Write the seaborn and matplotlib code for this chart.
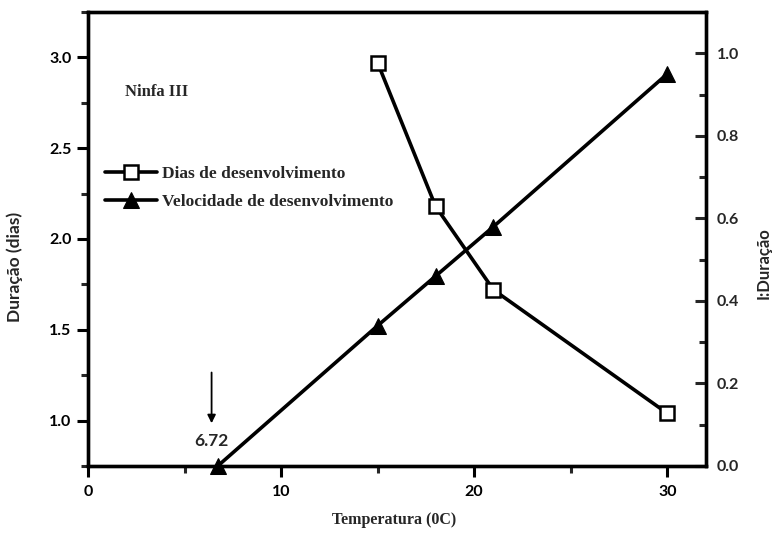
import matplotlib
matplotlib.use("Agg")
import matplotlib.pyplot as plt
import seaborn as sns
import pandas as pd
from matplotlib.ticker import MultipleLocator

sns.set_theme(style="white")
plt.rcParams['font.family'] = ['Liberation Serif', 'DejaVu Serif']
plt.rcParams['font.weight'] = 'bold'

temp_dias = [15, 18, 21, 30]
dias = [2.97, 2.18, 1.72, 1.04]
temp_vel = [6.72, 15, 18, 21, 30]
velocidade = [0.0, 0.34, 0.46, 0.58, 0.95]
xticks = [0, 10, 20, 30]
yticks_left = [1.0, 1.5, 2.0, 2.5, 3.0]
yticks_right = [0.0, 0.2, 0.4, 0.6, 0.8, 1.0]

df_d = pd.DataFrame({"Temperatura": temp_dias, "Dias": dias})
df_v = pd.DataFrame({"Temperatura": temp_vel, "Vel": velocidade})

fig = plt.figure(figsize=(7.74, 5.35), dpi=100)
ax = fig.add_axes([0.1137, 0.129, 0.7983, 0.8486])
ax2 = ax.twinx()

sns.lineplot(data=df_d, x="Temperatura", y="Dias", ax=ax, color="black",
             linewidth=2.6, marker="s", markersize=10, markerfacecolor="white",
             markeredgecolor="black", markeredgewidth=1.8, label="Dias de desenvolvimento",
             legend=False, zorder=3)
sns.lineplot(data=df_v, x="Temperatura", y="Vel", ax=ax2, color="black",
             linewidth=2.6, marker="^", markersize=12, markerfacecolor="black",
             markeredgecolor="black", label="Velocidade de desenvolvimento",
             legend=False, zorder=3)
for ln in ax2.lines + ax.lines:
    ln.set_clip_on(False)

ax.set_xlim(0, 32)
ax.set_ylim(0.75, 3.25)
ax2.set_ylim(0, 1.1)

ax.xaxis.set_minor_locator(MultipleLocator(5))
ax.yaxis.set_minor_locator(MultipleLocator(0.25))
ax2.yaxis.set_minor_locator(MultipleLocator(0.1))

tick_font = dict(family=['Lato', 'DejaVu Sans'], weight='bold', size=11.5)
ax.set_xticks(xticks)
ax.set_xticklabels([str(v) for v in xticks], fontdict=tick_font)
ax.set_yticks(yticks_left)
ax.set_yticklabels([f"{v:.1f}" for v in yticks_left], fontdict=tick_font)
ax2.set_yticks(yticks_right)
ax2.set_yticklabels([f"{v:.1f}" for v in yticks_right], fontdict=tick_font)

ax.tick_params(axis='both', which='major', direction='out', length=8, width=2.2,
               colors='black', pad=4)
ax.tick_params(axis='x', which='major', pad=6)
ax.tick_params(axis='both', which='minor', direction='out', length=5, width=2.2)
ax.tick_params(axis='x', which='both', bottom=True)
ax.tick_params(axis='y', which='both', left=True)
ax2.tick_params(axis='y', which='major', direction='in', length=8, width=2.2,
                right=True, pad=8)
ax2.tick_params(axis='y', which='minor', direction='in', length=5, width=2.2, right=True)

for a in (ax, ax2):
    for s in a.spines.values():
        s.set_linewidth(2.4)
        s.set_color('black')

ax.set_xlabel("Temperatura (0C)", fontsize=11.5, fontweight='bold')
ax.xaxis.set_label_coords(0.495, -0.102)
ax.set_ylabel("Duração (dias)", family=['Lato', 'DejaVu Sans'], fontsize=12.5, fontweight='bold')
ax.yaxis.label.set_va('center')
ax.yaxis.set_label_coords(-0.118, 0.438)
ax2.set_ylabel("I:Duração", family=['Lato', 'DejaVu Sans'], fontsize=12, fontweight='bold')
ax2.yaxis.label.set_va('center')
ax2.yaxis.set_label_coords(1.094, 0.447)

ax.text(1.9, 2.81, "Ninfa III", fontsize=12, fontweight='bold', va='center')

ax.annotate("", xy=(6.4, 0.97), xytext=(6.4, 1.28),
            arrowprops=dict(arrowstyle="-|>", color="black", lw=1.3, mutation_scale=12))
ax.text(6.4, 0.89, "6.72", family=['Lato', 'DejaVu Sans'], fontsize=12.5,
        fontweight='bold', ha='center', va='center')

h1, l1 = ax.get_legend_handles_labels()
h2, l2 = ax2.get_legend_handles_labels()
leg = ax.legend(h1 + h2, l1 + l2, loc='upper left', bbox_to_anchor=(0.0275, 0.661),
                frameon=False, prop=dict(size=12.5, weight='bold'), handlelength=3.0,
                handletextpad=0.3, labelspacing=0.7, borderaxespad=0, borderpad=0)

fig.savefig("out.png", dpi=100)
